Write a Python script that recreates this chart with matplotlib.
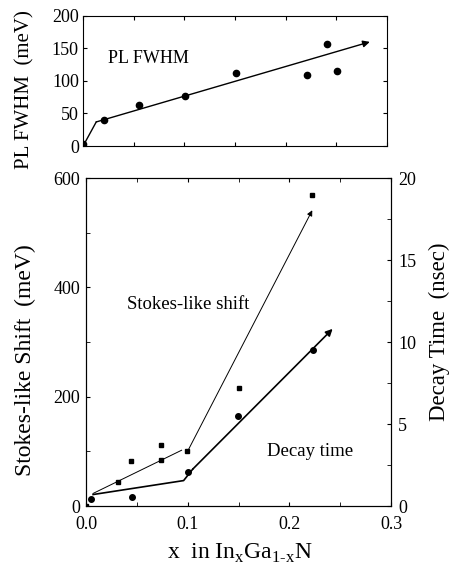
import matplotlib.pyplot as plt
from matplotlib.ticker import MultipleLocator

plt.rcParams['font.family'] = ['Liberation Serif', 'DejaVu Serif']
plt.rcParams['mathtext.fontset'] = 'custom'
plt.rcParams['mathtext.rm'] = 'Liberation Serif'

# PL FWHM (top panel)
fwhm_x = [0.0, 0.021, 0.055, 0.101, 0.151, 0.221, 0.241, 0.251]
fwhm_y = [3, 40, 63, 77, 112, 109, 156, 116]
fwhm_line_x = [0.0, 0.013, 0.283]
fwhm_line_y = [0, 37, 160]

# Stokes-like shift (squares, left axis)
stokes_x = [0.0, 0.031, 0.044, 0.074, 0.074, 0.0996, 0.15, 0.2225]
stokes_y = [0, 43, 82, 112, 84, 101, 215, 569]
stokes_line1_x = [0.007, 0.094]
stokes_line1_y = [23, 102]
stokes_line2_x = [0.101, 0.2225]
stokes_line2_y = [104, 541]

# Decay time (circles, right axis)
decay_x = [0.005, 0.045, 0.1, 0.149, 0.2235]
decay_y = [0.4, 0.55, 2.1, 5.5, 9.5]
decay_line_x = [0.007, 0.096, 0.105, 0.2425]
decay_line_y = [0.7, 1.55, 2.25, 10.8]

fig = plt.figure(figsize=(4.49, 5.66), dpi=100)

ax1 = fig.add_axes([0.185, 0.742, 0.677, 0.230])
ax1.plot(fwhm_x, fwhm_y, 'o', color='black', markersize=4.5)
ax1.plot(fwhm_line_x[:-1], fwhm_line_y[:-1], color='black', lw=1.0)
ax1.annotate('', xy=(fwhm_line_x[-1], fwhm_line_y[-1]),
             xytext=(fwhm_line_x[-2], fwhm_line_y[-2]),
             arrowprops=dict(arrowstyle='-|>', color='black', lw=1.0,
                             mutation_scale=10, shrinkA=0, shrinkB=0))
ax1.set_xlim(0, 0.3)
ax1.set_ylim(0, 200)
ax1.xaxis.set_major_locator(MultipleLocator(0.05))
ax1.yaxis.set_major_locator(MultipleLocator(50))
ax1.tick_params(direction='in', top=True, right=True, length=3, labelsize=13, pad=3)
ax1.tick_params(axis='x', labelbottom=False)
ax1.set_ylabel('PL FWHM  (meV)', fontsize=15)
ax1.yaxis.set_label_coords(-0.16, 0.43)
ax1.text(0.0247, 135, 'PL FWHM', fontsize=13, va='center')

ax2 = fig.add_axes([0.1915, 0.106, 0.6795, 0.5795])
ax2.plot(stokes_x, stokes_y, 's', color='black', markersize=3.5)
ax2.plot(stokes_line1_x, stokes_line1_y, color='black', lw=0.7)
ax2.annotate('', xy=(stokes_line2_x[1], stokes_line2_y[1]),
             xytext=(stokes_line2_x[0], stokes_line2_y[0]),
             arrowprops=dict(arrowstyle='-|>', color='black', lw=0.7,
                             mutation_scale=8, shrinkA=0, shrinkB=0))
ax2.set_xlim(0, 0.3)
ax2.set_ylim(0, 600)
ax2.xaxis.set_major_locator(MultipleLocator(0.1))
ax2.xaxis.set_minor_locator(MultipleLocator(0.05))
ax2.yaxis.set_major_locator(MultipleLocator(200))
ax2.yaxis.set_minor_locator(MultipleLocator(100))
ax2.xaxis.set_major_formatter(plt.FuncFormatter(lambda v, p: '%.1f' % v))
ax2.tick_params(which='both', direction='in', top=True, length=3, labelsize=13)
ax2.tick_params(axis='x', pad=7)
ax2.tick_params(axis='y', pad=4)
ax2.set_ylabel('Stokes-like Shift  (meV)', fontsize=17)
ax2.yaxis.set_label_coords(-0.165, 0.445)
ax2.set_xlabel(r'x  in In$_\mathrm{x}$Ga$_\mathrm{1\text{-}x}$N', fontsize=17)
ax2.xaxis.set_label_coords(0.505, -0.108)
ax2.text(0.04, 368, 'Stokes-like shift', fontsize=13.5, va='center')
ax2.text(0.178, 99, 'Decay time', fontsize=13.5, va='center')

ax3 = ax2.twinx()
ax3.plot(decay_x, decay_y, 'o', color='black', markersize=4)
ax3.plot(decay_line_x[:-1], decay_line_y[:-1], color='black', lw=1.2)
ax3.annotate('', xy=(decay_line_x[-1], decay_line_y[-1]),
             xytext=(decay_line_x[-2], decay_line_y[-2]),
             arrowprops=dict(arrowstyle='-|>', color='black', lw=1.2,
                             mutation_scale=10, shrinkA=0, shrinkB=0))
ax3.set_ylim(0, 20)
ax3.yaxis.set_major_locator(MultipleLocator(5))
ax3.yaxis.set_minor_locator(MultipleLocator(2.5))
ax3.tick_params(which='both', direction='in', length=3, labelsize=13, pad=5)
ax3.set_ylabel('Decay Time  (nsec)', fontsize=16.5)
ax3.yaxis.set_label_coords(1.125, 0.53)

fig.savefig('out.png', dpi=100)
